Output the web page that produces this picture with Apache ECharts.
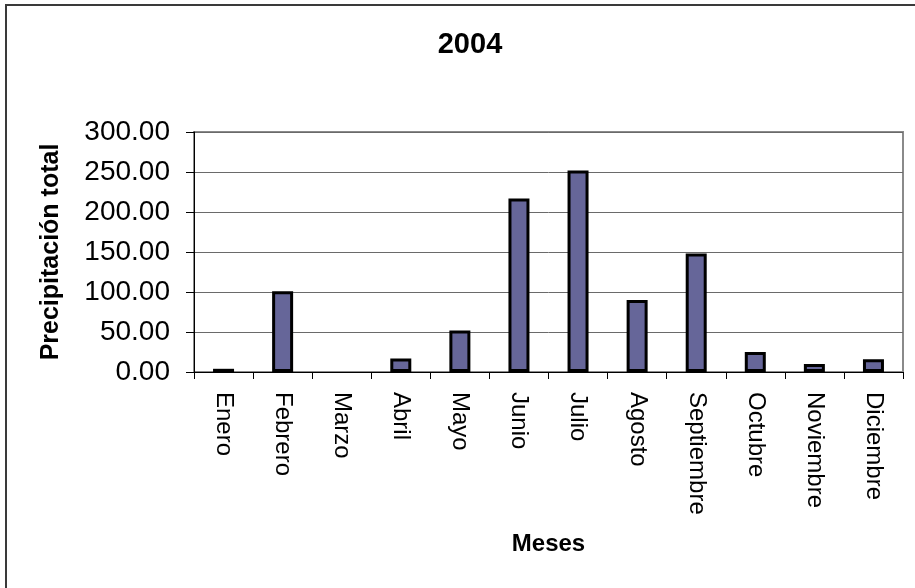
<!DOCTYPE html>
<html>
<head>
<meta charset="utf-8">
<title>2004</title>
<script src="https://cdn.jsdelivr.net/npm/echarts@6/dist/echarts.min.js"></script>
<style>
  html, body { margin: 0; padding: 0; background: #fff; }
  #chart { width: 915px; height: 588px; }
</style>
</head>
<body>
<div id="chart"></div>
<script>
// Monthly total precipitation, 2004
const months = ['Enero', 'Febrero', 'Marzo', 'Abril', 'Mayo', 'Junio',
                'Julio', 'Agosto', 'Septiembre', 'Octubre', 'Noviembre', 'Diciembre'];
const precipitation = [4, 101, 0, 17, 52, 217, 252, 90, 148, 25, 10, 16];
const yTicks = { min: 0, max: 300, interval: 50 };

const FONT = "'Liberation Sans', Arial, sans-serif";

// a month with no rain gets no outline, so nothing is drawn on the axis
const barData = precipitation.map(v => v === 0 ? { value: v, itemStyle: { borderWidth: 0 } } : v);

const chart = echarts.init(document.getElementById('chart'), null, { renderer: 'canvas' });

chart.setOption({
  backgroundColor: '#ffffff',
  animation: false,
  title: {
    text: '2004',
    left: 465,
    top: 25,
    textAlign: 'center',
    textStyle: { fontFamily: FONT, fontSize: 29, fontWeight: 'bold', color: '#000' }
  },
  graphic: [{
    type: 'rect',
    shape: { x: 6, y: 5, width: 1000, height: 1000 },
    style: { fill: 'none', stroke: '#3a3a3a', lineWidth: 2 },
    silent: true
  }],
  grid: {
    left: 194,
    top: 132,
    right: 12,
    bottom: 216,
    show: true,
    borderColor: '#8a8a8a',
    borderWidth: 2,
    backgroundColor: 'transparent'
  },
  xAxis: {
    type: 'category',
    data: months,
    name: 'Meses',
    nameLocation: 'middle',
    nameGap: 160,
    nameTextStyle: { fontFamily: FONT, fontSize: 24, fontWeight: 'bold', color: '#000' },
    axisLine: { lineStyle: { color: '#000', width: 1 } },
    axisTick: { show: true, length: 7, lineStyle: { color: '#000' } },
    axisLabel: {
      rotate: -90,
      margin: 20,
      fontFamily: FONT,
      fontSize: 24,
      color: '#000'
    },
    splitLine: { show: false }
  },
  yAxis: {
    type: 'value',
    min: yTicks.min,
    max: yTicks.max,
    interval: yTicks.interval,
    name: 'Precipitación total',
    nameLocation: 'middle',
    nameRotate: 90,
    nameGap: 130,
    nameTextStyle: { fontFamily: FONT, fontSize: 25, fontWeight: 'bold', color: '#000' },
    axisLine: { show: true, lineStyle: { color: '#000', width: 1 } },
    axisTick: { show: true, inside: false, length: 8, lineStyle: { color: '#000' } },
    axisLabel: {
      margin: 24,
      fontFamily: FONT,
      fontSize: 28,
      color: '#000',
      formatter: v => v.toFixed(2)
    },
    splitLine: { show: true, lineStyle: { color: '#6a6a6a', width: 1 } }
  },
  series: [{
    type: 'bar',
    data: barData,
    barWidth: 21,
    itemStyle: { color: '#666699', borderColor: '#000', borderWidth: 3 }
  }]
});
</script>
</body>
</html>
